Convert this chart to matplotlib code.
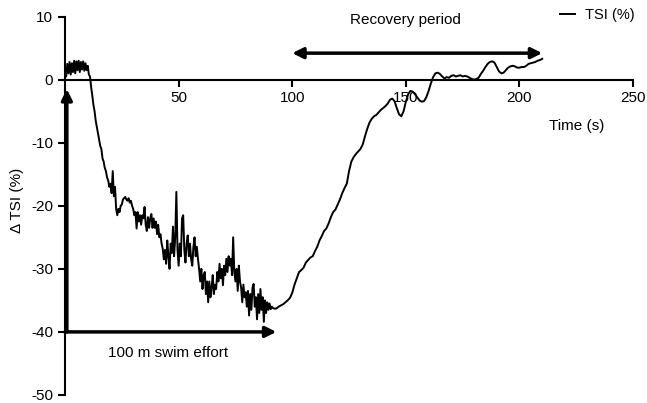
import numpy as np
import matplotlib
matplotlib.use("Agg")
import matplotlib.pyplot as plt

plt.rcParams['font.family'] = ['Liberation Sans', 'DejaVu Sans']
plt.rcParams['axes.unicode_minus'] = False

swim_time = np.arange(0, 92.5, 0.5)
swim_tsi = [
    1.5, 0.5, 2.5, 1.0, 2.8, 0.8, 2.6, 1.2, 3.0, 1.0,
    2.9, 1.5, 3.0, 1.2, 2.8, 1.6, 2.9, 1.4, 2.6, 1.5,
    2.2, 0.8, 0.5, -1.2, -2.5, -4.0, -5.0, -6.5, -7.5, -8.5,
    -9.5, -10.5, -11.0, -12.5, -13.0, -14.0, -14.5, -15.5, -16.0, -17.0,
    -16.5, -18.0, -14.5, -18.5, -17.0, -20.5, -21.5, -20.5, -21.0, -20.0,
    -19.8, -19.0, -18.8, -18.6, -19.0, -19.2, -18.8, -19.5, -19.2, -20.0,
    -20.5, -21.5, -21.0, -23.6, -21.0, -22.5, -21.5, -23.0, -21.5, -22.0,
    -20.2, -23.0, -24.0, -21.8, -23.5, -22.0, -21.3, -23.5, -22.0, -23.5,
    -22.5, -24.5, -23.0, -25.0, -24.5, -26.0, -26.8, -28.5, -27.0, -29.2,
    -25.5, -28.0, -30.0, -26.0, -27.5, -23.3, -28.0, -25.0, -17.8, -27.0,
    -29.5, -26.0, -28.0, -22.0, -21.5, -27.0, -29.0, -26.0, -24.7, -28.0,
    -26.0, -28.5, -29.5, -26.5, -25.0, -28.0, -26.5, -28.4, -30.0, -32.0,
    -30.0, -33.2, -31.0, -30.5, -34.0, -32.0, -35.3, -32.0, -34.5, -33.0,
    -31.0, -34.0, -32.5, -33.2, -30.5, -32.0, -29.2, -31.5, -30.0, -32.6,
    -29.5, -31.0, -28.4, -30.5, -28.0, -29.5, -28.4, -31.0, -25.0, -30.5,
    -32.0, -30.0, -33.5, -29.5, -32.0, -33.0, -35.3, -32.5, -34.5, -33.7,
    -36.0, -33.5, -37.4, -34.0, -36.5, -33.0, -32.4, -36.0, -34.5, -38.0,
    -34.0, -37.0, -33.2, -36.5, -34.5, -38.4, -35.0, -37.0, -35.3, -36.5,
    -35.5, -36.4, -36.0, -36.2, -36.3,
]

# Recovery phase, every 1 s from 93 to 210 s
rec_time = np.arange(93, 211, 1)
rec_tsi = [
    -36.3, -36.0, -35.8, -35.6, -35.3, -35.0, -34.6, -33.8, -32.5, -31.5,
    -30.5, -30.2, -29.8, -29.0, -28.6, -28.2, -28.0, -27.2, -26.5, -25.5,
    -24.8, -24.0, -23.6, -22.8, -21.8, -21.0, -20.6, -19.8, -19.0, -18.0,
    -17.2, -16.5, -14.5, -13.0, -12.3, -11.8, -11.4, -11.0, -10.3, -9.0,
    -7.8, -6.8, -6.2, -5.8, -5.6, -5.2, -4.8, -4.5, -4.2, -3.8,
    -3.2, -3.0, -3.4, -4.5, -5.5, -5.8, -5.0, -3.5, -2.3, -1.8,
    -1.9, -2.3, -2.8, -3.3, -3.5, -3.4, -2.8, -1.8, -0.6, 0.4,
    1.0, 1.1, 0.9, 0.5, 0.2, 0.4, 0.3, 0.6, 0.7, 0.5,
    0.6, 0.7, 0.5, 0.6, 0.5, 0.3, 0.1, 0.0, 0.1, 0.3,
    0.9, 1.4, 2.0, 2.5, 2.8, 2.9, 2.7, 2.0, 1.3, 1.0,
    1.1, 1.5, 1.9, 2.1, 2.2, 2.1, 1.9, 1.9, 2.0, 2.0,
    2.2, 2.5, 2.6, 2.7, 2.8, 3.0, 3.1, 3.3,
]

time = np.concatenate([swim_time, rec_time])
tsi = np.concatenate([swim_tsi, rec_tsi])

fig = plt.figure(figsize=(6.47, 4.03), dpi=100)
ax = fig.add_axes([0.1005, 0.0199, 0.878, 0.939])

ax.plot(time, tsi, color="black", lw=1.4, label="TSI (%)")

ax.set_xlim(0, 250)
ax.set_ylim(-50, 10)
ax.set_xticks([50, 100, 150, 200, 250])
ax.set_yticks([10, 0, -10, -20, -30, -40, -50])

ax.spines["top"].set_visible(False)
ax.spines["right"].set_visible(False)
ax.spines["bottom"].set_position(("data", 0))
ax.spines["left"].set_linewidth(1.5)
ax.spines["bottom"].set_linewidth(1.5)
ax.tick_params(axis="both", labelsize=11, width=1.5, length=5, direction="out")

# time label sits under the x axis
ax.text(225, -7.3, "Time (s)", ha="center", va="center", fontsize=11)
fig.text(17 / 647, 0.504, "\u0394 TSI (%)", rotation=90, ha="center", va="center", fontsize=11)

arrow = dict(arrowstyle="-|>", color="black", lw=2.5, mutation_scale=16, shrinkA=0, shrinkB=0)
ax.annotate("", xy=(93, -40), xytext=(0, -40), arrowprops=arrow)
ax.annotate("", xy=(0.8, -1.5), xytext=(0.8, -40), arrowprops=arrow)
double = dict(arrowstyle="<|-|>", color="black", lw=2.5, mutation_scale=16, shrinkA=0, shrinkB=0)
ax.annotate("", xy=(210, 4.2), xytext=(100, 4.2), arrowprops=double)

ax.text(150, 9.5, "Recovery period", ha="center", va="center", fontsize=11)
ax.text(45.5, -43.3, "100 m swim effort", ha="center", va="center", fontsize=11)

ax.legend(loc="center right", bbox_to_anchor=(0.99, 0.963), bbox_transform=fig.transFigure,
          frameon=False, handlelength=1.0, handletextpad=0.7, fontsize=10.5, borderaxespad=0)

fig.savefig("out.png", dpi=100)
